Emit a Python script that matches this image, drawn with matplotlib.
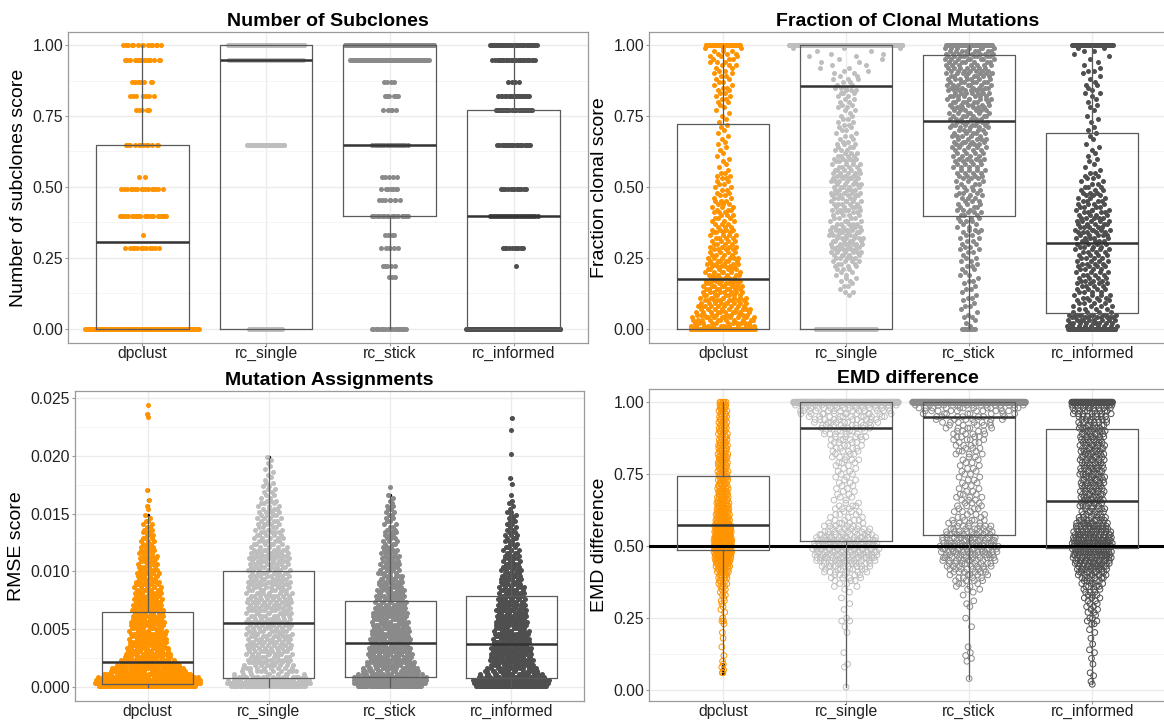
import numpy as np
import matplotlib
matplotlib.use("Agg")
import matplotlib.pyplot as plt
from matplotlib.ticker import MultipleLocator, FormatStrFormatter

plt.rcParams['font.family'] = ['Liberation Sans', 'DejaVu Sans']

METHODS = ['dpclust', 'rc_single', 'rc_stick', 'rc_informed']
COLOURS = ['#FF9400', '#BEBEBE', '#8A8A8A', '#4F4F4F']

# ---- Number of Subclones: discrete score levels and how many runs hit each
SUB_LEVELS = [
    [0, 0.285, 0.331, 0.396, 0.492, 0.535, 0.648, 0.770, 0.822, 0.869, 0.947, 1.0],
    [0, 0.648, 0.947, 1.0],
    [0, 0.182, 0.223, 0.285, 0.331, 0.396, 0.455, 0.492, 0.535, 0.648, 0.770, 0.822, 0.869, 0.947, 1.0],
    [0, 0.223, 0.285, 0.396, 0.492, 0.648, 0.770, 0.822, 0.869, 0.947, 1.0],
]
SUB_COUNTS = [
    [88, 12, 1, 22, 16, 2, 12, 5, 7, 7, 14, 14],
    [29, 32, 95, 100],
    [20, 3, 5, 6, 4, 22, 8, 7, 5, 20, 5, 6, 4, 70, 85],
    [110, 1, 10, 35, 12, 22, 22, 18, 4, 28, 35],
]
# box stats: q1, median, q3, lower whisker, upper whisker
SUB_BOX = [
    [0.0, 0.307, 0.648, 0.0, 1.0],
    [0.0, 0.947, 1.0, 0.0, 1.0],
    [0.396, 0.648, 1.0, 0.0, 1.0],
    [0.0, 0.396, 0.770, 0.0, 1.0],
]

# ---- Fraction of Clonal Mutations: counts per 0.01 score bin (0.00 .. 1.00)
CLONAL_DPCLUST = [
    150, 12, 11, 11, 10, 10, 10, 9, 9, 9,
    9, 8, 8, 8, 8, 8, 7, 7, 6, 6,
    6, 6, 6, 6, 6, 6, 4, 4, 4, 4,
    4, 4, 4, 4, 4, 4, 3, 3, 3, 3,
    3, 3, 3, 3, 3, 3, 2, 2, 2, 2,
    2, 2, 2, 2, 2, 2, 1, 1, 1, 1,
    1, 1, 1, 1, 1, 1, 1, 1, 1, 1,
    1, 1, 1, 1, 1, 1, 1, 1, 1, 1,
    2, 2, 2, 2, 2, 2, 2, 2, 2, 2,
    2, 2, 2, 3, 3, 3, 3, 3, 3, 3,
    60]
CLONAL_SINGLE = [
    180, 0, 0, 0, 0, 0, 0, 0, 0, 0,
    0, 0, 1, 2, 1, 2, 1, 2, 2, 2,
    2, 3, 3, 3, 4, 5, 5, 6, 6, 6,
    7, 6, 6, 6, 6, 7, 6, 5, 4, 4,
    4, 4, 5, 5, 5, 5, 5, 5, 5, 5,
    5, 5, 5, 5, 5, 5, 5, 4, 4, 4,
    4, 4, 3, 3, 3, 3, 2, 2, 2, 2,
    2, 2, 2, 2, 2, 2, 1, 2, 2, 2,
    2, 2, 2, 3, 3, 3, 2, 2, 3, 2,
    2, 2, 2, 2, 2, 2, 2, 2, 2, 3,
    500]
CLONAL_STICK = [
    8, 1, 1, 1, 2, 1, 1, 1, 2, 1,
    1, 2, 1, 1, 2, 1, 1, 2, 1, 2,
    1, 2, 2, 1, 2, 2, 1, 2, 2, 2,
    2, 2, 2, 2, 2, 3, 2, 2, 3, 3,
    3, 3, 3, 3, 3, 3, 3, 3, 3, 3,
    3, 3, 3, 3, 4, 4, 4, 4, 4, 4,
    4, 4, 4, 4, 5, 5, 5, 5, 5, 5,
    5, 5, 6, 6, 6, 6, 6, 6, 6, 6,
    7, 7, 7, 7, 7, 7, 7, 7, 7, 7,
    7, 7, 7, 7, 7, 8, 8, 8, 8, 8,
    50]
CLONAL_INFORMED = [
    55, 9, 9, 9, 9, 9, 4, 4, 4, 4,
    4, 4, 4, 4, 4, 4, 4, 4, 4, 4,
    4, 4, 4, 4, 4, 4, 4, 4, 4, 4,
    4, 5, 5, 5, 5, 5, 5, 5, 5, 5,
    4, 4, 4, 4, 4, 4, 3, 3, 3, 3,
    3, 2, 2, 2, 2, 2, 1, 1, 1, 1,
    1, 1, 1, 1, 1, 1, 0, 1, 1, 1,
    1, 1, 0, 1, 1, 1, 0, 1, 1, 1,
    1, 1, 1, 2, 1, 1, 2, 1, 1, 1,
    1, 2, 1, 1, 1, 1, 1, 1, 2, 2,
    65]
CLONAL_BOX = [
    [0.0, 0.176, 0.721, 0.0, 1.0],
    [0.0, 0.855, 1.0, 0.0, 1.0],
    [0.396, 0.733, 0.965, 0.0, 1.0],
    [0.057, 0.301, 0.690, 0.0, 1.0],
]

# ---- Mutation Assignments: counts per 0.00025 RMSE bin, plus isolated high values
RMSE_DPCLUST = [
    110, 70, 45, 35, 30, 26, 24, 22, 20, 14,
    14, 13, 13, 12, 12, 12, 11, 11, 11, 10,
    10, 10, 10, 9, 9, 9, 9, 9, 8, 8,
    8, 8, 7, 7, 7, 7, 6, 6, 6, 6,
    5, 5, 5, 5, 5, 4, 4, 4, 4, 3,
    3, 3, 3, 3, 2, 2, 2, 2, 1, 1,
    0, 1, 1, 0]
RMSE_SINGLE = [
    45, 35, 25, 18, 10, 10, 9, 9, 9, 9,
    9, 9, 9, 9, 9, 9, 9, 9, 9, 9,
    9, 9, 9, 9, 9, 9, 9, 9, 9, 9,
    9, 9, 9, 9, 9, 9, 8, 8, 8, 8,
    8, 8, 8, 8, 8, 8, 8, 8, 6, 6,
    5, 5, 5, 5, 4, 4, 5, 4, 4, 4,
    4, 4, 3, 3, 3, 2, 2, 2, 2, 2,
    2, 1, 1, 1, 1, 1, 1, 1, 1, 1]
RMSE_STICK = [
    50, 40, 32, 28, 16, 15, 15, 14, 14, 14,
    13, 13, 12, 12, 12, 12, 12, 11, 11, 11,
    10, 10, 10, 10, 10, 9, 9, 9, 8, 8,
    8, 8, 7, 7, 7, 6, 6, 6, 6, 5,
    5, 5, 5, 4, 4, 4, 4, 4, 3, 3,
    3, 3, 3, 3, 3, 2, 2, 2, 2, 2,
    2, 2, 2, 1, 1, 1, 1]
RMSE_INFORMED = [
    70, 55, 35, 20, 17, 15, 14, 14, 14, 14,
    13, 13, 13, 13, 12, 12, 11, 11, 11, 10,
    10, 10, 9, 9, 9, 9, 9, 8, 8, 8,
    8, 8, 7, 7, 7, 6, 6, 6, 6, 5,
    5, 5, 5, 4, 4, 4, 4, 4, 3, 3,
    3, 3, 3, 3, 2, 2, 2, 2, 2, 2,
    2, 1, 1, 1, 1, 0, 1]
RMSE_EXTRA = [
    [0.0162, 0.0170, 0.0234, 0.0236, 0.0244],
    [],
    [0.0173],
    [0.0176, 0.0181, 0.0202, 0.0222, 0.0233],
]
RMSE_BOX = [
    [0.0003, 0.0022, 0.0065, 0.0, 0.0148],
    [0.0008, 0.0055, 0.0100, 0.0, 0.0198],
    [0.0009, 0.0038, 0.0074, 0.0, 0.0165],
    [0.0008, 0.0037, 0.0079, 0.0, 0.0158],
]

# ---- EMD difference: counts per 0.01 bin (0.00 .. 1.00)
EMD_DPCLUST = [
    0, 0, 0, 0, 0, 0, 2, 1, 1, 1,
    1, 0, 1, 0, 0, 1, 0, 0, 1, 0,
    1, 0, 0, 1, 2, 1, 0, 1, 1, 1,
    1, 2, 1, 2, 2, 2, 3, 3, 3, 4,
    5, 6, 7, 8, 10, 12, 13, 14, 15, 16,
    16, 16, 15, 15, 14, 13, 12, 11, 10, 9,
    9, 8, 8, 8, 7, 7, 7, 6, 6, 6,
    6, 5, 5, 5, 5, 5, 5, 5, 5, 5,
    6, 6, 5, 5, 5, 5, 5, 4, 4, 4,
    4, 4, 4, 4, 4, 4, 4, 4, 5, 5,
    6]
EMD_SINGLE = [
    0, 1, 0, 0, 0, 0, 0, 0, 1, 1,
    0, 0, 0, 1, 0, 0, 0, 0, 0, 0,
    1, 0, 1, 0, 2, 1, 0, 0, 1, 0,
    1, 0, 1, 0, 1, 1, 2, 2, 3, 4,
    5, 6, 7, 9, 10, 12, 14, 15, 16, 17,
    18, 17, 15, 12, 10, 8, 7, 6, 5, 4,
    3, 3, 3, 3, 3, 2, 2, 2, 2, 2,
    2, 2, 2, 2, 2, 2, 2, 2, 2, 3,
    3, 3, 3, 4, 4, 4, 4, 5, 5, 5,
    6, 7, 8, 9, 10, 11, 12, 13, 14, 16,
    230]
EMD_STICK = [
    0, 0, 0, 0, 1, 0, 0, 0, 0, 0,
    1, 1, 1, 1, 0, 1, 0, 0, 0, 0,
    0, 0, 1, 0, 0, 1, 0, 0, 0, 1,
    1, 1, 0, 1, 1, 2, 2, 3, 4, 4,
    5, 6, 7, 7, 8, 9, 10, 11, 12, 12,
    13, 12, 11, 10, 9, 8, 7, 6, 5, 5,
    3, 3, 3, 3, 3, 3, 3, 3, 3, 2,
    2, 2, 2, 2, 2, 2, 2, 2, 2, 2,
    2, 2, 3, 3, 3, 3, 3, 4, 4, 4,
    4, 5, 5, 6, 6, 7, 8, 10, 12, 15,
    260]
EMD_INFORMED = [
    0, 0, 1, 1, 0, 1, 1, 0, 0, 1,
    0, 1, 0, 1, 1, 0, 1, 0, 1, 0,
    1, 1, 0, 2, 2, 2, 1, 2, 2, 2,
    2, 2, 3, 3, 3, 3, 4, 4, 5, 6,
    7, 8, 9, 10, 11, 12, 13, 14, 15, 15,
    16, 16, 15, 14, 13, 12, 11, 10, 9, 8,
    6, 5, 5, 5, 5, 5, 6, 6, 6, 6,
    6, 6, 6, 6, 6, 6, 6, 6, 6, 6,
    6, 6, 6, 6, 6, 6, 6, 6, 6, 6,
    6, 6, 6, 6, 6, 7, 7, 8, 9, 10,
    100]
EMD_BOX = [
    [0.488, 0.572, 0.745, 0.10, 1.0],
    [0.517, 0.911, 1.0, 0.01, 1.0],
    [0.539, 0.950, 1.0, 0.038, 1.0],
    [0.494, 0.656, 0.907, 0.02, 1.0],
]


def vdc(n):
    # van der Corput sequence (base 2), used for quasirandom spreading
    out = np.zeros(n)
    for i in range(n):
        k, f, v = i + 1, 0.5, 0.0
        while k:
            v += f * (k & 1)
            k >>= 1
            f /= 2
        out[i] = v
    return out


def spread(vals, bw, power, halfw):
    d = np.exp(-0.5 * ((vals[:, None] - vals[None, :]) / bw) ** 2).sum(1)
    r = (d / d.max()) ** power
    order = np.argsort(vals, kind='stable')
    off = np.empty(len(vals))
    off[order] = 2 * vdc(len(vals)) - 1
    return halfw * r * off


def binned(counts, step, shift=0.0, extra=()):
    centres = (np.arange(len(counts)) + shift) * step
    vals = np.repeat(centres, counts)
    return np.concatenate([vals, np.asarray(extra, float)])


fig = plt.figure(figsize=(11.64, 7.22), dpi=100)


def panel(rect, groups, boxes, title, ylabel, ylim, major, fmt, bw, power, halfw, hollow=False, refline=None):
    ax = fig.add_axes(rect)
    ax.set_xlim(-0.6, 3.6)
    ax.set_ylim(*ylim)
    ax.yaxis.set_major_locator(MultipleLocator(major))
    ax.yaxis.set_minor_locator(MultipleLocator(major / 2))
    ax.yaxis.set_major_formatter(FormatStrFormatter(fmt))
    ax.set_axisbelow(True)
    ax.grid(True, which='major', color='#EBEBEB', lw=1.0)
    ax.grid(True, which='minor', axis='y', color='#F4F4F4', lw=0.6)
    if refline is not None:
        ax.axhline(refline, color='black', lw=2.2, zorder=1.5)
    for i, vals in enumerate(groups):
        x = i + spread(vals, bw, power, halfw[i])
        lo, hi = boxes[i][3], boxes[i][4]
        out = (vals < lo - 1e-9) | (vals > hi + 1e-9)
        ax.scatter(np.full(out.sum(), i), vals[out], s=6, color='black', lw=0, zorder=1.8)
        if hollow:
            ax.scatter(x, vals, s=17, facecolors='none', edgecolors=COLOURS[i], linewidths=0.7, zorder=2)
        else:
            ax.scatter(x, vals, s=13, color=COLOURS[i], lw=0, zorder=2)
    stats = [dict(q1=b[0], med=b[1], q3=b[2], whislo=b[3], whishi=b[4], fliers=[]) for b in boxes]
    ax.bxp(stats, positions=range(4), widths=0.75, showfliers=False, showcaps=False, manage_ticks=False,
           boxprops=dict(color='#5A5A5A', lw=0.9),
           whiskerprops=dict(color='#5A5A5A', lw=0.9),
           medianprops=dict(color='#333333', lw=1.8))
    for b in ax.lines + ax.patches:
        b.set_zorder(3)
    ax.set_xticks(range(4))
    ax.set_xticklabels(METHODS)
    ax.tick_params(which='major', length=2, color='#999999', labelsize=11.3, labelcolor='#222222', pad=0.3)
    ax.tick_params(axis='y', pad=1.5)
    ax.tick_params(which='minor', length=0)
    for s in ax.spines.values():
        s.set_color('#9A9A9A')
        s.set_linewidth(0.9)
    ax.set_title(title, fontsize=14, fontweight='bold', pad=4)
    ax.set_ylabel(ylabel, fontsize=14, labelpad=4)
    return ax


sub_groups = [np.repeat(np.array(l, float), c) for l, c in zip(SUB_LEVELS, SUB_COUNTS)]
clonal_groups = [binned(c, 0.01) for c in (CLONAL_DPCLUST, CLONAL_SINGLE, CLONAL_STICK, CLONAL_INFORMED)]
rmse_groups = [binned(c, 0.00025, 0.5, e) for c, e in
               zip((RMSE_DPCLUST, RMSE_SINGLE, RMSE_STICK, RMSE_INFORMED), RMSE_EXTRA)]
emd_groups = [binned(c, 0.01) for c in (EMD_DPCLUST, EMD_SINGLE, EMD_STICK, EMD_INFORMED)]

panel([0.0584, 0.5249, 0.4467, 0.4308], sub_groups, SUB_BOX, 'Number of Subclones',
      'Number of subclones score', (-0.05, 1.046), 0.25, '%.2f', 0.004, 0.6, [0.47, 0.31, 0.36, 0.39])
panel([0.5576, 0.5249, 0.4442, 0.4308], clonal_groups, CLONAL_BOX, 'Fraction of Clonal Mutations',
      'Fraction clonal score', (-0.05, 1.046), 0.25, '%.2f', 0.05, 0.6, [0.27, 0.46, 0.21, 0.21])
panel([0.0644, 0.0291, 0.4373, 0.4294], rmse_groups, RMSE_BOX, 'Mutation Assignments',
      'RMSE score', (-0.00121, 0.02561), 0.005, '%.3f', 0.0006, 0.75, [0.44, 0.35, 0.31, 0.32])
panel([0.5576, 0.0291, 0.4442, 0.4321], emd_groups, EMD_BOX, 'EMD difference',
      'EMD difference', (-0.038, 1.046), 0.25, '%.2f', 0.04, 0.6, [0.075, 0.43, 0.46, 0.17],
      hollow=True, refline=0.5)

fig.savefig('out.png', dpi=100)
